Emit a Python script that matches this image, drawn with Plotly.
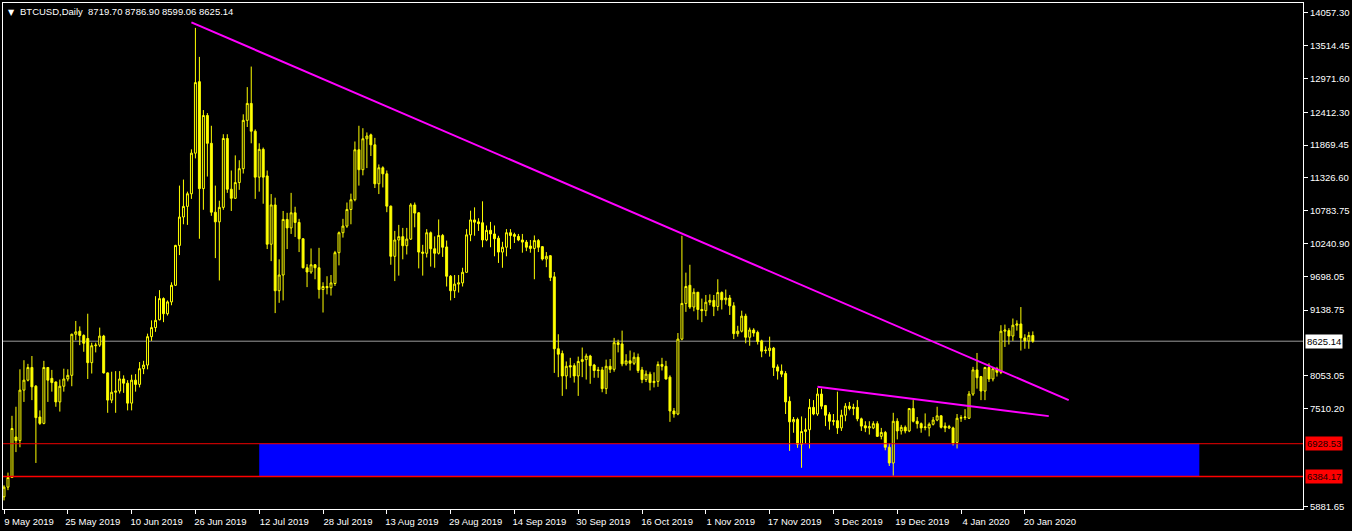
import pandas as pd
import plotly.graph_objects as go

# ---------------- data (BTCUSD daily) ----------------
start_date = "2019-05-09"

open_ = [
    6050, 6210, 6370, 7040, 6980, 7815, 7980, 8190, 7880, 7370, 7265, 8190, 8010, 7950, 7620, 7880,
    8000, 8060, 8740, 8790, 8720, 8670, 8270,                                                   # May
    8550, 8560, 8710, 8100, 7650, 7780, 7800, 8000, 7930, 7600, 7980, 7910, 8170, 8230, 8700,
    8850, 8980, 9330, 9080, 9275, 9550, 10210, 10680, 10856, 11065, 11737, 12920, 11150, 12360, 11900,  # Jun
    10760, 10600, 10840, 11980, 11140, 10990, 11250, 11480, 12280, 12560, 12100, 11340, 11800,
    11360, 10230, 10880, 9460, 9720, 10640, 10500, 10750, 10590, 10320, 9840, 9770, 9890, 9840,
    9480, 9530, 9510, 9580,                                                                     # Jul
    10090, 10420, 10530, 10805, 10966, 11793, 11463, 11975, 12040, 11875, 11230, 11495, 11395,
    10860, 10030, 10300, 10355, 10205, 10315, 10880, 10750, 10100, 10080, 10420, 10155, 10080,
    10375, 10185, 9700, 9460, 9570,                                                             # Aug
    9590, 9765, 10385, 10632, 10600, 10585, 10300, 10460, 10400, 10330, 10100, 10180, 10420,
    10390, 10360, 10300, 10265, 10200, 10160, 10290, 10190, 9985, 10040, 9690, 8500, 8420, 8050,
    8220, 8220, 8050,                                                                           # Sep
    8290, 8320, 8380, 8230, 8150, 8150, 7840, 8210, 8160, 8600, 8580, 8250, 8300, 8260, 8360,
    8150, 7990, 8080, 7940, 7960, 8240, 8210, 8030, 7470, 7420, 8660, 9250, 9550, 9190, 9435,
    9150,                                                                                       # Oct
    9130, 9270, 9300, 9200, 9430, 9310, 9340, 9210, 8750, 8790, 9040, 8690, 8810, 8770, 8630,
    8480, 8470, 8510, 8200, 8130, 8090, 7630, 7290, 7330, 6920, 7130, 7160, 7530, 7420, 7750,   # Nov
    7560, 7410, 7310, 7310, 7190, 7400, 7550, 7510, 7530, 7340, 7225, 7190, 7190, 7260, 7050,
    7115, 6870, 6610, 7300, 7140, 7200, 7140, 7510, 7300, 7260, 7195, 7190, 7250, 7320, 7390,
    7220,                                                                                       # Dec
    7190, 7190, 6950, 7350, 7360, 7350, 7750, 8150, 8040, 7800, 8190, 8000, 8170, 8110, 8790,
    8800, 8710, 8890, 8910, 8680, 8630, 8719.70,                                                # Jan
]
high = [
    6240, 6450, 7390, 7540, 8160, 8310, 8250, 8380, 7900, 7480, 8300, 8190, 8150, 7960, 7990, 8170,
    8160, 8750, 8960, 8870, 8740, 9080, 8600,
    8600, 8850, 8730, 8110, 8120, 8130, 8130, 8060, 7980, 8070, 8080, 8280, 8300, 8750, 8970,
    9370, 9470, 9350, 9300, 9600, 10220, 11200, 11300, 11100, 11800, 13810, 13330, 12450, 12400, 12190,
    11200, 10950, 12050, 12050, 11450, 11700, 11620, 12380, 12830, 13170, 12130, 11900, 11830,
    11450, 11060, 11000, 9980, 10780, 10750, 11080, 10850, 10650, 10330, 9900, 10160, 9900,
    10170, 9600, 9700, 9720, 10120,
    10440, 10650, 10920, 11067, 11930, 12190, 12150, 12080, 12060, 11990, 11550, 11520, 11450,
    10870, 10450, 10550, 10500, 10500, 10910, 10920, 10760, 10220, 10480, 10440, 10360, 10640,
    10400, 10290, 9720, 9720, 9720,
    9840, 10480, 10785, 10840, 10660, 10940, 10540, 10600, 10540, 10370, 10270, 10480, 10480,
    10420, 10400, 10400, 10300, 10300, 10375, 10315, 10200, 10100, 10050, 9770, 8740, 8470, 8290,
    8350, 8260, 8370,
    8520, 8420, 8400, 8250, 8200, 8200, 8320, 8330, 8680, 8650, 8800, 8410, 8470, 8440, 8420,
    8200, 8140, 8120, 8110, 8290, 8350, 8300, 8060, 7520, 8760, 10370, 9760, 9890, 9500, 9440,
    9330,
    9390, 9400, 9390, 9650, 9450, 9480, 9390, 9270, 8880, 9130, 9080, 8850, 8840, 8800, 8650,
    8540, 8700, 8530, 8240, 8240, 8130, 7710, 7370, 7360, 7380, 7350, 7670, 7650, 7850, 7840,
    7570, 7450, 7420, 7790, 7490, 7600, 7620, 7590, 7650, 7360, 7300, 7300, 7300, 7300, 7190,
    7140, 6940, 7440, 7350, 7240, 7230, 7520, 7650, 7370, 7280, 7430, 7280, 7370, 7540, 7400,
    7280,
    7240, 7210, 7420, 7400, 7500, 7800, 8200, 8430, 8050, 8200, 8260, 8190, 8200, 8890, 8900,
    8840, 9000, 8970, 9190, 8740, 8780, 8786.90,
]
low = [
    5990, 6160, 6360, 6790, 6870, 7620, 7960, 7650, 6610, 7240, 7250, 7620, 7790, 7540, 7460, 7790,
    7960, 7880, 8640, 8560, 8450, 8000, 8090,
    8440, 8530, 8090, 7440, 7600, 7440, 7760, 7770, 7480, 7480, 7790, 7860, 8080, 8160, 8630,
    8780, 8970, 8940, 9050, 9220, 9540, 10050, 10560, 10550, 10980, 11650, 10320, 10800, 11350, 10700,
    10000, 9630, 10800, 11080, 10780, 10980, 11130, 11400, 12170, 11900, 10980, 11100, 10900,
    10150, 9950, 9090, 9260, 9300, 10150, 10400, 10350, 10100, 9830, 9520, 9740, 9650,
    9330, 9100, 9400, 9380, 9540,
    9880, 10340, 10500, 10560, 10940, 11200, 11370, 11490, 11690, 11160, 11060, 11170, 10760,
    9890, 9620, 9710, 9980, 10060, 10300, 10510, 9830, 9710, 10010, 9860, 9840, 10060,
    10020, 9530, 9300, 9340, 9430,
    9530, 9760, 10280, 10370, 10450, 10180, 10280, 10180, 10030, 9920, 9840, 10030, 10150,
    10250, 10280, 10090, 10115, 10090, 9650, 10100, 9960, 9850, 9620, 8100, 8030, 7720, 7830,
    8020, 7940, 7720,
    8030, 7990, 7920, 8020, 8020, 7780, 7750, 8100, 8120, 8440, 8210, 8220, 8140, 8230, 8100,
    7930, 7950, 7810, 7860, 7870, 8140, 7990, 7290, 7360, 7400, 8640, 9110, 9160, 9120, 8980,
    8940,
    9040, 9220, 9040, 9130, 9150, 9230, 9060, 8660, 8700, 8770, 8590, 8550, 8700, 8570, 8360,
    8420, 8370, 8050, 7990, 8030, 7420, 6810, 7110, 6860, 6530, 6930, 6850, 7400, 7390, 7500,
    7220, 7160, 7230, 7090, 7140, 7300, 7480, 7400, 7300, 7140, 7120, 7080, 7170, 7040, 7000,
    6820, 6560, 6400, 7000, 7080, 7100, 7120, 7280, 7180, 7110, 7150, 7050, 7230, 7300, 7180,
    7120,
    7170, 6900, 6850, 7290, 7320, 7340, 7720, 7840, 7650, 7650, 7950, 7960, 8040, 8080, 8530,
    8570, 8630, 8800, 8470, 8500, 8500, 8599.06,
]
close = [
    6210, 6370, 7180, 6980, 7815, 7980, 8190, 7870, 7360, 7265, 8190, 7980, 7940, 7620, 7880, 8000,
    8060, 8740, 8780, 8720, 8590, 8270, 8550,
    8560, 8710, 8100, 7650, 7780, 7800, 8000, 7930, 7600, 7980, 7910, 8170, 8230, 8700, 8850,
    8970, 9330, 9080, 9275, 9550, 10210, 10680, 10856, 11065, 11737, 12905, 11150, 12360, 11900, 10760,
    10600, 10840, 11980, 11140, 10990, 11250, 11480, 12280, 12560, 12100, 11340, 11800, 11340,
    10230, 10880, 9460, 9720, 10640, 10500, 10750, 10590, 10320, 9840, 9770, 9890, 9840,
    9480, 9530, 9510, 9590, 10090,
    10420, 10530, 10805, 10966, 11793, 11463, 11975, 12020, 11875, 11230, 11495, 11395, 10860,
    10030, 10300, 10355, 10205, 10315, 10880, 10745, 10100, 10080, 10420, 10155, 10080, 10375,
    10180, 9700, 9460, 9570, 9590,
    9765, 10385, 10632, 10595, 10570, 10300, 10460, 10400, 10320, 10100, 10180, 10420, 10375,
    10360, 10300, 10265, 10180, 10160, 10290, 10180, 9985, 10030, 9680, 8500, 8410, 8050, 8210,
    8200, 8050, 8290,
    8320, 8380, 8220, 8140, 8140, 7840, 8210, 8160, 8600, 8570, 8250, 8300, 8260, 8360, 8140,
    7990, 8080, 7940, 7960, 8240, 8210, 8000, 7470, 7420, 8660, 9250, 9530, 9190, 9435, 9150,
    9130,
    9270, 9300, 9200, 9430, 9310, 9340, 9210, 8750, 8790, 9040, 8690, 8810, 8760, 8620, 8460,
    8470, 8510, 8190, 8130, 8080, 7620, 7290, 7330, 6920, 7130, 7160, 7530, 7420, 7750, 7550,
    7400, 7300, 7300, 7190, 7400, 7550, 7510, 7530, 7340, 7220, 7190, 7210, 7260, 7050, 7115,
    6870, 6610, 7300, 7140, 7200, 7140, 7510, 7300, 7260, 7190, 7205, 7250, 7320, 7390, 7200,
    7190,
    7210, 6940, 7350, 7360, 7370, 7750, 8150, 8020, 7800, 8190, 8000, 8170, 8110, 8790, 8810,
    8710, 8890, 8910, 8680, 8630, 8720, 8625.14,
]

dates = pd.date_range(start_date, periods=len(close), freq="D")

# right price scale (MetaTrader style tick values)
y_tick_vals = [14057.30, 13514.45, 12971.60, 12412.30, 11869.45, 11326.60, 10783.75,
               10240.90, 9698.05, 9138.75, 8053.05, 7510.20, 5881.65]
y_tick_text = ["14057.30", "13514.45", "12971.60", "12412.30", "11869.45", "11326.60",
               "10783.75", "10240.90", "9698.05", "9138.75", "8053.05", "7510.20", "5881.65"]

# time scale
x_tick_vals = ["2019-05-09", "2019-05-25", "2019-06-10", "2019-06-26", "2019-07-12",
               "2019-07-28", "2019-08-13", "2019-08-29", "2019-09-14", "2019-09-30",
               "2019-10-16", "2019-11-01", "2019-11-17", "2019-12-03", "2019-12-19",
               "2020-01-04", "2020-01-20"]
x_tick_text = ["9 May 2019", "25 May 2019", "10 Jun 2019", "26 Jun 2019", "12 Jul 2019",
               "28 Jul 2019", "13 Aug 2019", "29 Aug 2019", "14 Sep 2019", "30 Sep 2019",
               "16 Oct 2019", "1 Nov 2019", "17 Nov 2019", "3 Dec 2019", "19 Dec 2019",
               "4 Jan 2020", "20 Jan 2020"]
x_range = ["2019-05-08 18:00", "2020-03-29 18:00"]
y_range = [5848, 14222]

# drawn objects
last_price = 8625.14
zone_top = 6928.53
zone_bottom = 6384.17
zone_start = "2019-07-12"
zone_end = "2020-03-03 18:00"
trend1 = [("2019-06-25", 13902), ("2020-01-31", 7650)]
trend2 = [("2019-11-29", 7870), ("2020-01-26", 7385)]
title_text = "BTCUSD,Daily  8719.70 8786.90 8599.06 8625.14"

FONT = "Liberation Sans, Arial, sans-serif"
YELLOW = "#FFFF00"

fig = go.Figure()
fig.add_trace(go.Candlestick(
    x=dates, open=open_, high=high, low=low, close=close,
    increasing=dict(line=dict(color=YELLOW, width=1), fillcolor="#000000"),
    decreasing=dict(line=dict(color=YELLOW, width=1), fillcolor=YELLOW),
    whiskerwidth=0, hoverinfo="skip", showlegend=False,
))

shapes = [
    dict(type="rect", xref="x", yref="y", x0=zone_start, x1=zone_end,
         y0=zone_bottom, y1=zone_top, fillcolor="#0000FF", line=dict(width=0), layer="below"),
    dict(type="line", xref="paper", yref="y", x0=0, x1=1, y0=last_price, y1=last_price,
         line=dict(color="#9A9A9A", width=1), layer="below"),
    dict(type="line", xref="paper", yref="y", x0=0, x1=1, y0=zone_top, y1=zone_top,
         line=dict(color="#F00000", width=1)),
    dict(type="line", xref="paper", yref="y", x0=0, x1=1, y0=zone_bottom, y1=zone_bottom,
         line=dict(color="#FF0000", width=1.5)),
    dict(type="line", xref="x", yref="y", x0=trend1[0][0], y0=trend1[0][1],
         x1=trend1[1][0], y1=trend1[1][1], line=dict(color="#FF00FF", width=2)),
    dict(type="line", xref="x", yref="y", x0=trend2[0][0], y0=trend2[0][1],
         x1=trend2[1][0], y1=trend2[1][1], line=dict(color="#FF00FF", width=2)),
]

annotations = [
    dict(xref="paper", yref="paper", x=0, y=1, xanchor="left", yanchor="top",
         xshift=3, yshift=-3, text="▼", showarrow=False,
         font=dict(family="DejaVu Sans", size=8, color="#FFFFFF")),
    dict(xref="paper", yref="paper", x=0, y=1, xanchor="left", yanchor="top",
         xshift=15, yshift=-1, text=title_text, showarrow=False,
         font=dict(family=FONT, size=9.5, color="#FFFFFF")),
    dict(xref="paper", yref="y", x=1, y=last_price, xanchor="left", yanchor="middle",
         xshift=2, text=f"{last_price:.2f}", showarrow=False,
         bgcolor="#FFFFFF", borderpad=1, font=dict(family=FONT, size=9.5, color="#000000")),
    dict(xref="paper", yref="y", x=1, y=zone_top, xanchor="left", yanchor="middle",
         xshift=2, text=f"{zone_top:.2f}", showarrow=False,
         bgcolor="#FF0000", borderpad=1, font=dict(family=FONT, size=9.5, color="#200000")),
    dict(xref="paper", yref="y", x=1, y=zone_bottom, xanchor="left", yanchor="middle",
         xshift=2, text=f"{zone_bottom:.2f}", showarrow=False,
         bgcolor="#FF0000", borderpad=1, font=dict(family=FONT, size=9.5, color="#200000")),
]

fig.update_layout(
    width=1352, height=531,
    margin=dict(l=2, r=46, t=2, b=22),
    paper_bgcolor="#000000", plot_bgcolor="#000000",
    shapes=shapes, annotations=annotations,
    font=dict(family=FONT, size=9.5, color="#FFFFFF"),
    showlegend=False,
    xaxis=dict(
        type="date", range=x_range, rangeslider=dict(visible=False),
        tickvals=x_tick_vals, ticktext=x_tick_text, tickangle=0,
        ticks="outside", ticklen=4, tickcolor="#FFFFFF", tickwidth=1,
        ticklabelshift=25,
        showline=True, linecolor="#FFFFFF", linewidth=1, mirror=True,
        showgrid=False, zeroline=False,
        tickfont=dict(family=FONT, size=9.5, color="#FFFFFF"),
    ),
    yaxis=dict(
        side="right", range=y_range,
        tickvals=y_tick_vals, ticktext=y_tick_text,
        ticks="outside", ticklen=4, tickcolor="#FFFFFF", tickwidth=1,
        showline=True, linecolor="#FFFFFF", linewidth=1, mirror=True,
        showgrid=False, zeroline=False,
        tickfont=dict(family=FONT, size=9.5, color="#FFFFFF"),
    ),
)

fig.write_html(
    "out.html",
    config={"displayModeBar": False},
    post_script="document.body.style.margin='0';document.body.style.overflow='hidden';"
                "document.body.style.background='#000';",
)
